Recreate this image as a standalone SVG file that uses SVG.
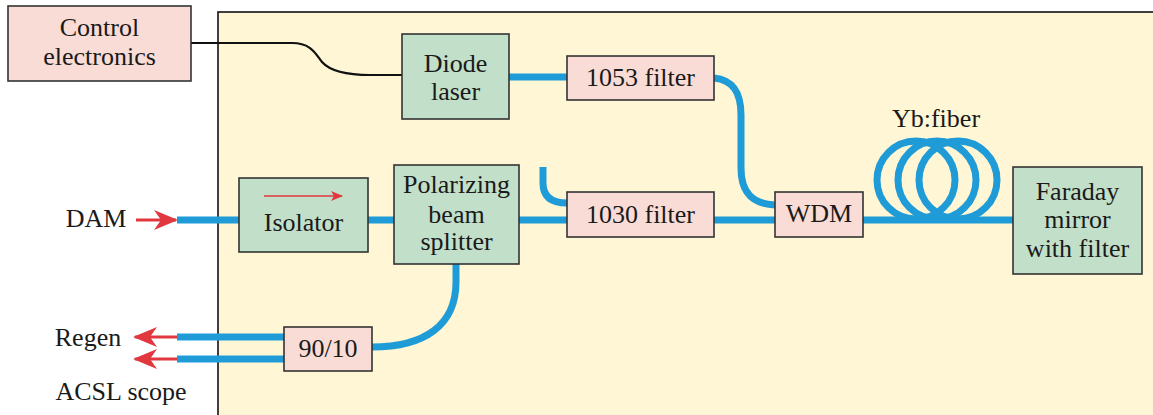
<svg xmlns="http://www.w3.org/2000/svg" width="1153" height="415" viewBox="0 0 1153 415" font-family="'Liberation Serif', 'Times New Roman', 'DejaVu Serif', serif">
<style>
text{font-family:'Liberation Serif','Times New Roman','DejaVu Serif',serif;font-size:26px;fill:#1a1a1a;text-anchor:middle}
.pink{fill:#F9DCD5;stroke:#333;stroke-width:1.6}
.green{fill:#C2DFC9;stroke:#333;stroke-width:1.6}
.fiber{fill:none;stroke:#1F9BD7;stroke-width:7}
.red{fill:none;stroke:#E0383E;stroke-width:3}
</style>
<defs>
<marker id="ah" viewBox="0 0 24 20" refX="22" refY="10" markerWidth="24" markerHeight="20" markerUnits="userSpaceOnUse" orient="auto">
<path d="M0,0 L24,10 L0,20 L7,10 Z" fill="#E0383E"/>
</marker>
<marker id="ahs" viewBox="0 0 12 10" refX="11" refY="5" markerWidth="12" markerHeight="10" markerUnits="userSpaceOnUse" orient="auto">
<path d="M0,0 L12,5 L0,10 L3,5 Z" fill="#E0383E"/>
</marker>
</defs>
<g id="panel">
<rect x="218" y="12" width="940" height="410" fill="#FEF6D4" stroke="#111" stroke-width="1.6"/>
</g>
<g id="connectors">
<path d="M191,43 H292 C312,43 316,55 322,62 C330,71 345,75 370,75 H402" fill="none" stroke="#111" stroke-width="2.2"/>
<path class="fiber" d="M509,77 H567"/>
<path class="fiber" d="M714,78 C733,80 741,92 741,115 V168 C741,192 752,204 775,205"/>
<path class="fiber" d="M543,167 V183 C543,197 552,203 567,203"/>
<path class="fiber" d="M177,220 H239"/>
<path class="fiber" d="M368,220 H394"/>
<path class="fiber" d="M519,220 H567"/>
<path class="fiber" d="M714,220 H775"/>
<path class="fiber" d="M863,220 H1013"/>
<circle class="fiber" cx="916" cy="180" r="39"/>
<circle class="fiber" cx="937" cy="180" r="39"/>
<circle class="fiber" cx="958" cy="180" r="39"/>
<path class="fiber" d="M456,264 V282 C456,325 425,347 372,347"/>
<path class="fiber" d="M177,337 H284"/>
<path class="fiber" d="M177,359 H284"/>
<path class="red" d="M136,220 H176" marker-end="url(#ah)"/>
<path class="red" d="M177,337 H135" marker-end="url(#ah)"/>
<path class="red" d="M177,359 H135" marker-end="url(#ah)"/>
</g>
<g id="control">
<rect class="pink" x="8" y="6" width="183" height="75"/>
<text x="99.5" y="36">Control</text>
<text x="99.5" y="65">electronics</text>
</g>
<g id="diode">
<rect class="green" x="402" y="34" width="107" height="85"/>
<text x="455.5" y="72">Diode</text>
<text x="455.5" y="100">laser</text>
</g>
<g id="f1053">
<rect class="pink" x="567" y="56" width="147" height="44"/>
<text x="640.5" y="86">1053 filter</text>
</g>
<g id="f1030">
<rect class="pink" x="567" y="192" width="147" height="45"/>
<text x="640.5" y="223">1030 filter</text>
</g>
<g id="wdm">
<rect class="pink" x="775" y="192" width="88" height="45"/>
<text x="819" y="222">WDM</text>
</g>
<g id="ybfiber">
<text x="936" y="127">Yb:fiber</text>
</g>
<g id="faraday">
<rect class="green" x="1013" y="167" width="129" height="107"/>
<text x="1077.5" y="200">Faraday</text>
<text x="1077.5" y="228">mirror</text>
<text x="1077.5" y="257">with filter</text>
</g>
<g id="isolator">
<rect class="green" x="239" y="178" width="129" height="74"/>
<path fill="none" stroke="#E0383E" stroke-width="1.6" d="M264,196 H342" marker-end="url(#ahs)"/>
<text x="303.5" y="231">Isolator</text>
</g>
<g id="pbs">
<rect class="green" x="394" y="165" width="125" height="99"/>
<text x="456.5" y="193">Polarizing</text>
<text x="456.5" y="223">beam</text>
<text x="456.5" y="250">splitter</text>
</g>
<g id="splitter">
<rect class="pink" x="284" y="327" width="88" height="44"/>
<text x="328" y="357">90/10</text>
</g>
<g id="labels">
<text x="96" y="227">DAM</text>
<text x="88" y="346">Regen</text>
<text x="121" y="400">ACSL scope</text>
</g>
</svg>
